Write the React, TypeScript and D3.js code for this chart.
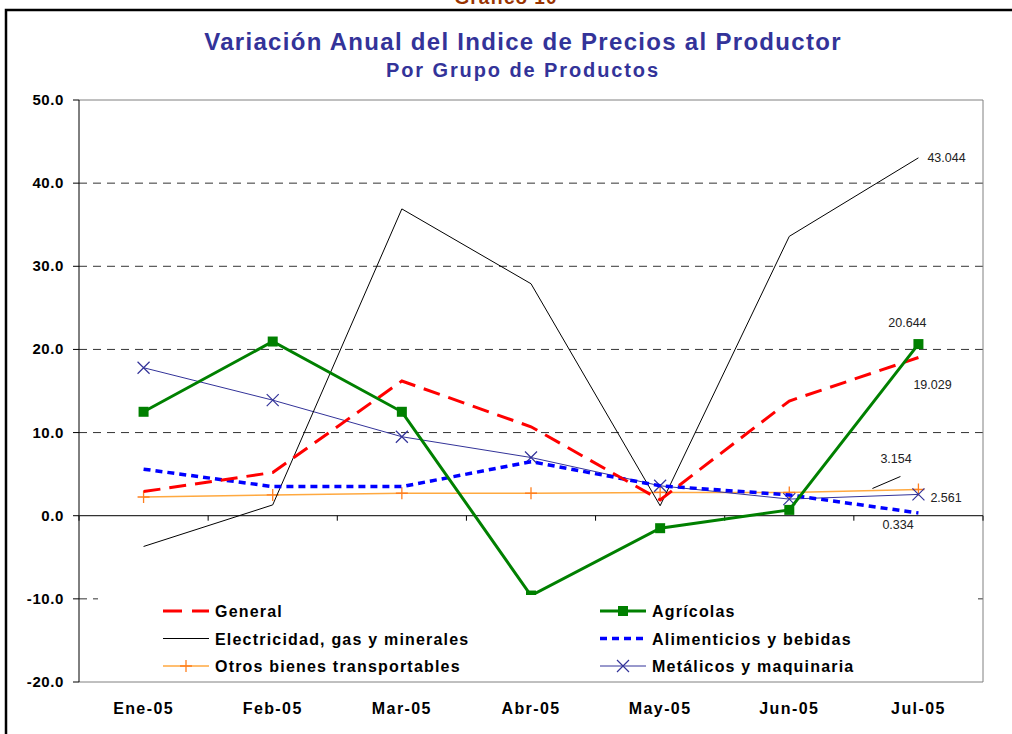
import * as d3 from "d3";

const months = ["Ene-05", "Feb-05", "Mar-05", "Abr-05", "May-05", "Jun-05", "Jul-05"];

const general = [2.9, 5.2, 16.2, 10.7, 1.9, 13.8, 19.029];
const agricolas = [12.5, 20.95, 12.5, -9.6, -1.5, 0.7, 20.644];
const electricidad = [-3.7, 1.3, 36.9, 27.9, 1.2, 33.6, 43.044];
const alimenticios = [5.6, 3.5, 3.5, 6.5, 3.6, 2.5, 0.334];
const otros = [2.25, 2.5, 2.7, 2.7, 2.8, 2.8, 3.154];
const metalicos = [17.8, 13.9, 9.5, 7.0, 3.6, 2.0, 2.561];

const yTicks = [-20, -10, 0, 10, 20, 30, 40, 50];

const title = "Variación Anual del Indice de Precios al Productor";
const subtitle = "Por Grupo de Productos";

const FONT = "'Liberation Sans', Arial, sans-serif";

type Marker = "none" | "square" | "x" | "plus";

interface Series {
  name: string;
  values: number[];
  color: string;
  width: number;
  dash?: string;
  marker: Marker;
  markerColor?: string;
}

const series: Series[] = [
  { name: "Otros bienes transportables", values: otros, color: "#FFA940", width: 1.5, marker: "plus", markerColor: "#FF7F1E" },
  { name: "Metálicos y maquinaria", values: metalicos, color: "#333399", width: 1, marker: "x" },
  { name: "Electricidad, gas y minerales", values: electricidad, color: "#000000", width: 1, marker: "none" },
  { name: "Alimenticios y bebidas", values: alimenticios, color: "#0000FF", width: 3.5, dash: "7,5", marker: "none" },
  { name: "General", values: general, color: "#FF0000", width: 3, dash: "17,9", marker: "none" },
  { name: "Agrícolas", values: agricolas, color: "#008000", width: 3, marker: "square" },
];

const legendOrder = [
  ["General", "Agrícolas"],
  ["Electricidad, gas y minerales", "Alimenticios y bebidas"],
  ["Otros bienes transportables", "Metálicos y maquinaria"],
];

const drawMarker = (m: Marker, x: number, y: number, color: string, key: string | number) => {
  if (m === "square") return <rect key={key} x={x - 5} y={y - 5} width={10} height={10} fill={color} />;
  if (m === "x")
    return (
      <path key={key} d={`M${x - 6},${y - 6}L${x + 6},${y + 6}M${x - 6},${y + 6}L${x + 6},${y - 6}`} stroke={color} strokeWidth={1.2} />
    );
  if (m === "plus")
    return <path key={key} d={`M${x - 6},${y}L${x + 6},${y}M${x},${y - 6}L${x},${y + 6}`} stroke={color} strokeWidth={1.3} />;
  return null;
};

export default function App() {
  const W = 1012;
  const H = 734;
  const plot = { left: 79, right: 983, top: 100, bottom: 682 };

  const x = d3.scaleBand<string>().domain(months).range([plot.left, plot.right]);
  const cx = (m: string) => (x(m) as number) + x.bandwidth() / 2;
  const y = d3.scaleLinear().domain([-20, 50]).range([plot.bottom, plot.top]);

  const line = d3
    .line<number>()
    .x((_, i) => cx(months[i]))
    .y((d) => y(d));

  const last = months[months.length - 1];
  const lx = cx(last);

  return (
    <svg width={W} height={H} style={{ position: "absolute", left: 0, top: 0, background: "#fff" }} fontFamily={FONT}>
      {/* frame */}
      <text x={506} y={4} textAnchor="middle" fontSize={19} fontWeight="bold" letterSpacing={1} fill="#993300">
        Gráfico 10
      </text>
      <path d={`M6,${H}V10H${W}`} fill="none" stroke="#000" strokeWidth={2.5} />

      <text x={523} y={50} textAnchor="middle" fontSize={24} fontWeight="bold" letterSpacing={1.3} fill="#333399">
        {title}
      </text>
      <text x={523} y={77} textAnchor="middle" fontSize={20} fontWeight="bold" letterSpacing={1.9} fill="#333399">
        {subtitle}
      </text>

      {/* gridlines */}
      {yTicks
        .filter((t) => t !== 0 && t !== 50 && t !== -20)
        .map((t) => (
          <line key={t} x1={plot.left} x2={plot.right} y1={y(t)} y2={y(t)} stroke="#333" strokeWidth={1} strokeDasharray="8,6" />
        ))}
      {/* plot border */}
      <path d={`M${plot.left},${plot.top}H${plot.right}V${plot.bottom}H${plot.left}`} fill="none" stroke="#808080" strokeWidth={1} />

      {/* y axis */}
      <line x1={plot.left} x2={plot.left} y1={plot.top} y2={plot.bottom} stroke="#000" strokeWidth={1} />
      {yTicks.map((t) => (
        <g key={t}>
          <line x1={plot.left - 6} x2={plot.left} y1={y(t)} y2={y(t)} stroke="#000" />
          <text x={64} y={y(t) + 5} textAnchor="end" fontSize={15} fontWeight="bold" letterSpacing={0.6} fill="#000">
            {t.toFixed(1)}
          </text>
        </g>
      ))}

      {/* x axis at zero */}
      <line x1={plot.left} x2={plot.right} y1={y(0)} y2={y(0)} stroke="#333" strokeWidth={1.2} />
      {months.map((m) => (
        <line key={m} x1={x(m) as number} x2={x(m) as number} y1={y(0)} y2={y(0) + 5} stroke="#000" />
      ))}
      <line x1={plot.right} x2={plot.right} y1={y(0)} y2={y(0) + 5} stroke="#000" />
      {months.map((m) => (
        <text key={m} x={cx(m)} y={714} textAnchor="middle" fontSize={16} fontWeight="bold" letterSpacing={1.4} fill="#000">
          {m}
        </text>
      ))}

      {/* series */}
      {series.map((s) => (
        <g key={s.name}>
          <path d={line(s.values) || ""} fill="none" stroke={s.color} strokeWidth={s.width} strokeDasharray={s.dash} />
          {s.values.map((v, i) => drawMarker(s.marker, cx(months[i]), y(v), s.markerColor || s.color, i))}
        </g>
      ))}

      {/* data labels */}
      <g fontSize={12.5} fill="#222">
        <text x={lx + 9} y={y(electricidad[6]) + 4}>{electricidad[6].toFixed(3)}</text>
        <text x={lx - 11} y={y(agricolas[6]) - 17} textAnchor="middle">{agricolas[6].toFixed(3)}</text>
        <text x={lx - 5} y={y(general[6]) + 31}>{general[6].toFixed(3)}</text>
        <text x={lx - 38} y={y(otros[6]) - 26}>{otros[6].toFixed(3)}</text>
        <line x1={lx - 46} x2={lx - 18} y1={y(otros[6]) - 1} y2={y(otros[6]) - 13} stroke="#000" strokeWidth={1} />
        <text x={lx + 12} y={y(metalicos[6]) + 8}>{metalicos[6].toFixed(3)}</text>
        <text x={lx - 36} y={y(alimenticios[6]) + 16}>{alimenticios[6].toFixed(3)}</text>
      </g>

      {/* legend */}
      <rect x={98} y={595} width={880} height={84} fill="#fff" />
      {legendOrder.map((row, r) =>
        row.map((name, c) => {
          const s = series.find((d) => d.name === name) as Series;
          const x0 = c === 0 ? 163 : 600;
          const yy = 611 + r * 27.5;
          return (
            <g key={name}>
              <line x1={x0} x2={x0 + 46} y1={yy} y2={yy} stroke={s.color} strokeWidth={s.width} strokeDasharray={s.name === "General" ? "19,10" : s.dash} />
              {drawMarker(s.marker, x0 + 23, yy, s.markerColor || s.color, "m")}
              <text x={x0 + 52} y={yy + 6} fontSize={16} fontWeight="bold" letterSpacing={1.2} fill="#000">
                {name}
              </text>
            </g>
          );
        })
      )}
    </svg>
  );
}
